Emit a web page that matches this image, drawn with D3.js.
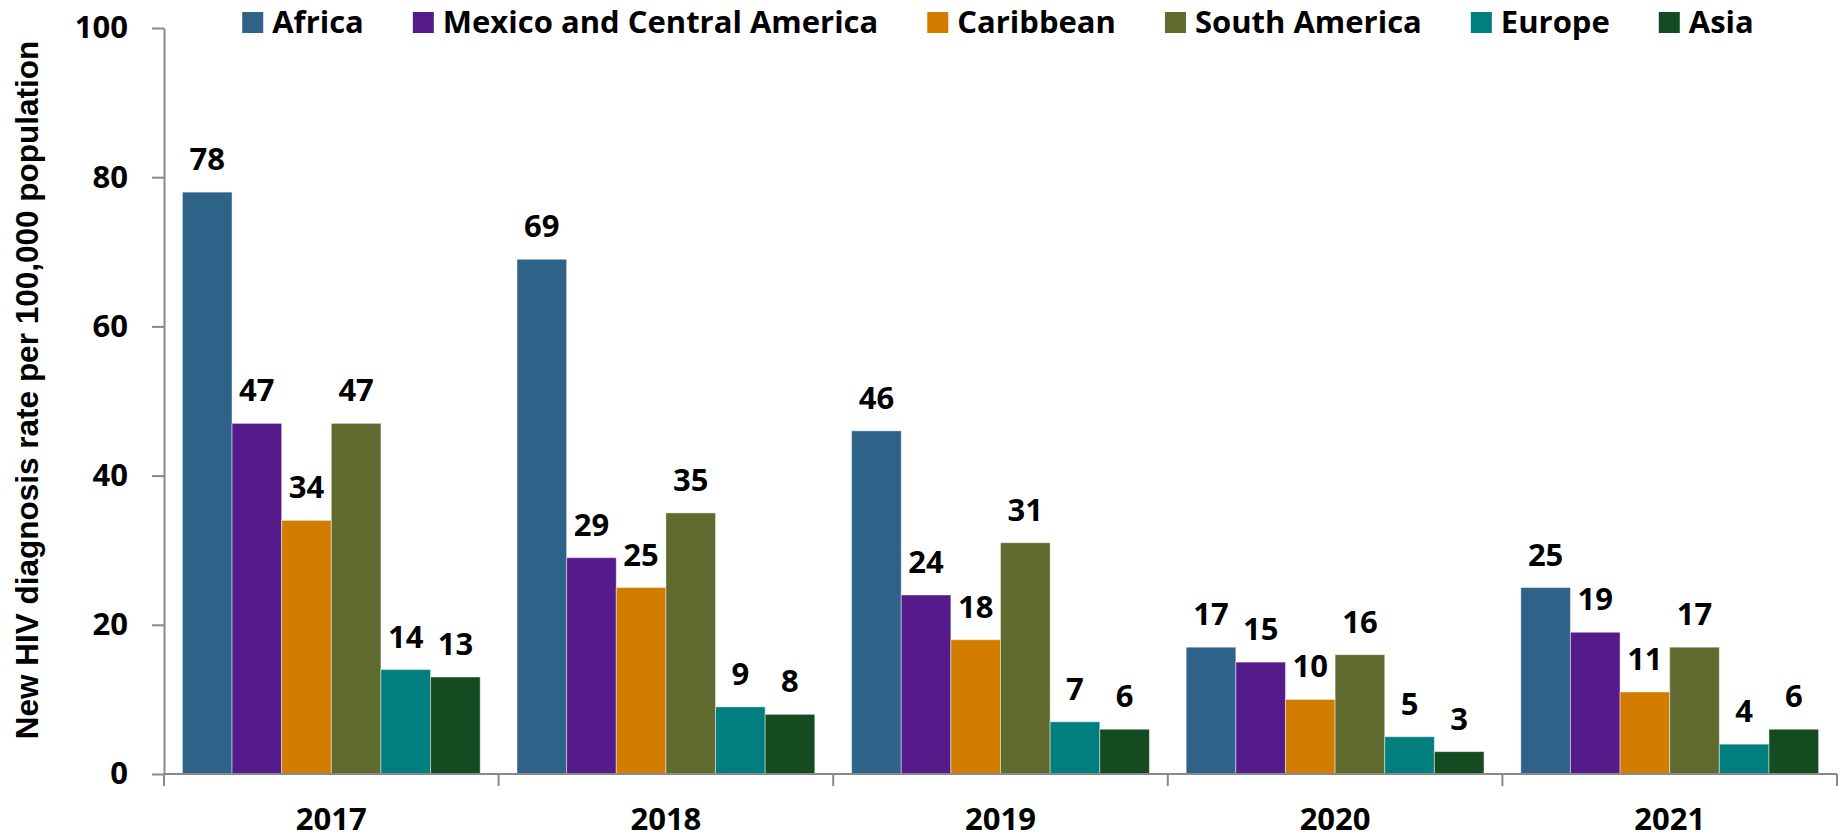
<!DOCTYPE html>
<html>
<head>
<meta charset="utf-8">
<script src="https://cdn.jsdelivr.net/npm/d3@7"></script>
<style>
  html, body { margin: 0; padding: 0; background: #fff; }
  svg { display: block; }
</style>
</head>
<body>
<svg width="1841" height="839"></svg>
<script>
// Chart data
const years = ["2017", "2018", "2019", "2020", "2021"];
const regions = ["Africa", "Mexico and Central America", "Caribbean", "South America", "Europe", "Asia"];
const regionColors = ["#2e6289", "#551b8b", "#d37d00", "#5f6b2f", "#007f7e", "#154b20"];

const africa = [78, 69, 46, 17, 25];
const mexicoCentral = [47, 29, 24, 15, 19];
const caribbean = [34, 25, 18, 10, 11];
const southAmerica = [47, 35, 31, 16, 17];
const europe = [14, 9, 7, 5, 4];
const asia = [13, 8, 6, 3, 6];

const yTicks = [0, 20, 40, 60, 80, 100];
const yTitle = "New HIV diagnosis rate per 100,000 population";

const series = [africa, mexicoCentral, caribbean, southAmerica, europe, asia];

const labelFont = "'Open Sans', Lato, sans-serif";
const labelWeight = 700;
const labelSize = "31px";
const svg = d3.select("svg");

const plotLeft = 164, plotRight = 1837, plotTop = 28, plotBottom = 774;

// Scales
const x0 = d3.scaleBand()
    .domain(years)
    .range([plotLeft, plotRight])
    .paddingInner(0.11)
    .paddingOuter(0.055);

const x1 = d3.scaleBand()
    .domain(regions)
    .range([0, x0.bandwidth()]);

const y = d3.scaleLinear()
    .domain([0, 100])
    .range([plotBottom, plotTop]);

const color = d3.scaleOrdinal().domain(regions).range(regionColors);

// Bars
const rows = years.map((yr, i) => ({
    year: yr,
    values: regions.map((r, j) => ({ region: r, value: series[j][i] }))
}));

const groups = svg.append("g")
    .selectAll("g")
    .data(rows)
    .join("g")
    .attr("transform", d => `translate(${x0(d.year)},0)`);

groups.selectAll("rect")
    .data(d => d.values)
    .join("rect")
    .attr("x", d => x1(d.region))
    .attr("y", d => y(d.value))
    .attr("width", x1.bandwidth())
    .attr("height", d => y(0) - y(d.value))
    .attr("fill", d => color(d.region))
    .attr("stroke", "#ffffff")
    .attr("stroke-opacity", 0.45)
    .attr("stroke-width", 1);

// Value labels
groups.selectAll("text")
    .data(d => d.values)
    .join("text")
    .attr("x", d => x1(d.region) + x1.bandwidth() / 2)
    .attr("y", d => y(d.value) - 22)
    .attr("text-anchor", "middle")
    .style("font-family", labelFont)
    .style("font-weight", labelWeight)
    .style("font-size", labelSize)
    .attr("fill", "#000")
    .text(d => d.value);

// Y axis
const yAxis = svg.append("g")
    .attr("transform", `translate(${plotLeft},0)`)
    .call(d3.axisLeft(y).tickValues(yTicks).tickSize(12).tickPadding(24).tickSizeOuter(0));

yAxis.select(".domain").attr("stroke", "#898989").attr("stroke-width", 2);
yAxis.selectAll(".tick line").attr("stroke", "#898989").attr("stroke-width", 2);
yAxis.selectAll(".tick text")
    .style("font-family", labelFont)
    .style("font-weight", labelWeight)
    .style("font-size", labelSize)
    .attr("fill", "#000");

// X axis: line with ticks at category boundaries
const xAxis = svg.append("g");
xAxis.append("line")
    .attr("x1", plotLeft).attr("x2", plotRight)
    .attr("y1", y(0)).attr("y2", y(0))
    .attr("stroke", "#898989").attr("stroke-width", 2);

const bounds = years.map(d => x0(d) - x0.step() * x0.paddingOuter()).concat([plotRight]);
xAxis.selectAll(".xtick")
    .data(bounds)
    .join("line")
    .attr("class", "xtick")
    .attr("x1", d => d).attr("x2", d => d)
    .attr("y1", y(0)).attr("y2", y(0) + 12)
    .attr("stroke", "#898989").attr("stroke-width", 2);

xAxis.selectAll(".xlabel")
    .data(years)
    .join("text")
    .attr("class", "xlabel")
    .attr("x", d => x0(d) + x0.bandwidth() / 2)
    .attr("y", 830)
    .attr("text-anchor", "middle")
    .style("font-family", labelFont)
    .style("font-weight", labelWeight)
    .style("font-size", labelSize)
    .attr("fill", "#000")
    .text(d => d);

// Y axis title
svg.append("text")
    .attr("transform", "translate(38,390) rotate(-90)")
    .attr("text-anchor", "middle")
    .style("font-family", "'Liberation Sans', Arial, sans-serif")
    .style("font-weight", "bold")
    .style("font-size", "31.5px")
    .attr("fill", "#000")
    .text(yTitle);

// Legend, laid out left to right and centred over the chart
const legend = svg.append("g");
const items = legend.selectAll("g")
    .data(regions)
    .join("g");

items.append("rect")
    .attr("width", 21).attr("height", 21)
    .attr("y", 12)
    .attr("fill", d => color(d));

items.append("text")
    .attr("x", 30)
    .attr("y", 33)
    .style("font-family", labelFont)
    .style("font-weight", labelWeight)
    .style("font-size", labelSize)
    .attr("fill", "#000")
    .text(d => d);

let cursor = 0;
items.each(function () {
    const w = this.querySelector("text").getComputedTextLength();
    d3.select(this).attr("transform", `translate(${cursor},0)`);
    cursor += 30 + w + 49;
});
const legendWidth = cursor - 49;
legend.attr("transform", `translate(${(245 + 1751) / 2 - legendWidth / 2},0)`);
</script>
</body>
</html>
